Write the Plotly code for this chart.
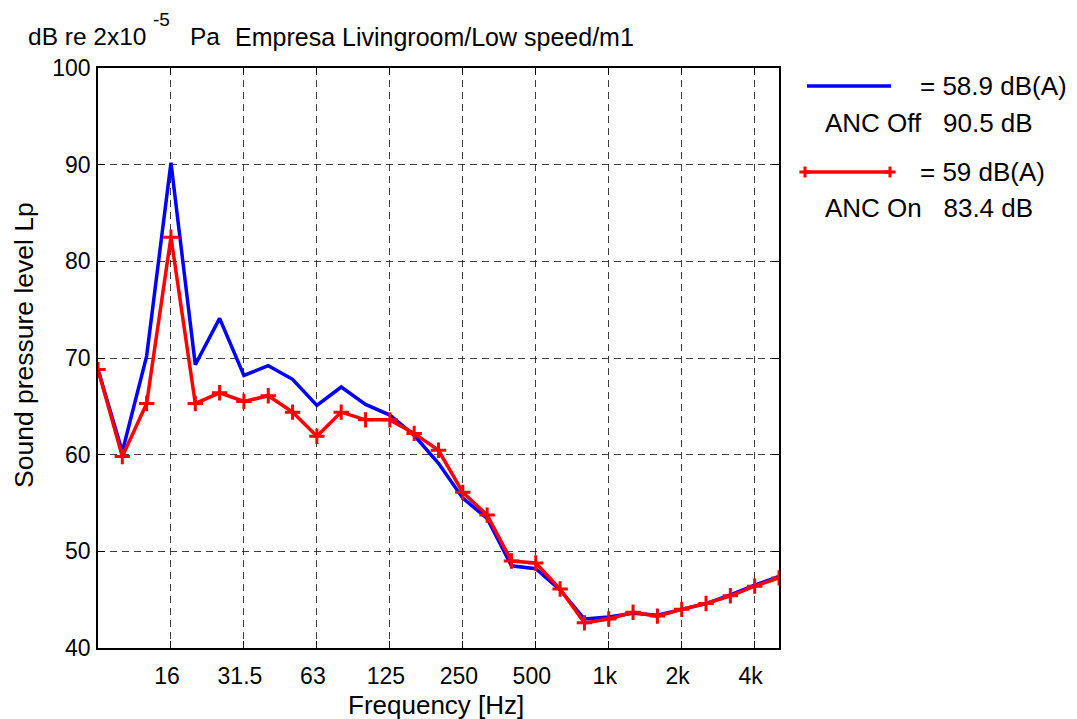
import plotly.graph_objects as go

W, H = 1077, 719

bands = ["8", "10", "12.5", "16", "20", "25", "31.5", "40", "50", "63", "80", "100",
         "125", "160", "200", "250", "315", "400", "500", "630", "800", "1k", "1.25k",
         "1.6k", "2k", "2.5k", "3.15k", "4k", "5k"]
tick_labels = ["16", "31.5", "63", "125", "250", "500", "1k", "2k", "4k"]

anc_off = [68.8, 60.3, 70.2, 90.2, 69.3, 74.1, 68.2, 69.2, 67.8, 65.1, 67.0, 65.2, 64.1, 62.0,
           59.1, 55.5, 53.4, 48.5, 48.2, 46.0, 43.0, 43.2, 43.6, 43.4, 44.0, 44.6, 45.5, 46.5, 47.4]
anc_on = [68.8, 59.8, 65.3, 82.5, 65.3, 66.4, 65.5, 66.1, 64.4, 61.9, 64.4, 63.6, 63.6, 62.2,
          60.45, 56.1, 53.75, 49.0, 48.8, 46.1, 42.6, 43.0, 43.7, 43.3, 44.0, 44.6, 45.4, 46.4, 47.25]

legend_texts = [("= 58.9 dB(A)", "ANC Off   90.5 dB"), ("= 59 dB(A)", "ANC On   83.4 dB")]

xi = list(range(len(bands)))
tickvals = [bands.index(t) for t in tick_labels]

FONT = "Liberation Sans, Arial, Helvetica, sans-serif"

fig = go.Figure()
fig.add_trace(go.Scatter(x=xi, y=anc_off, mode="lines",
                         line=dict(color="#0000ff", width=3.5), showlegend=False))
fig.add_trace(go.Scatter(x=xi, y=anc_on, mode="lines+markers",
                         line=dict(color="#ff0000", width=3.5),
                         marker=dict(symbol="cross-thin", size=11,
                                     line=dict(color="#ff0000", width=3)),
                         showlegend=False))

# legend samples on a hidden pixel-space axis to the right
fig.add_trace(go.Scatter(x=[807, 891], y=[86, 86], mode="lines",
                         line=dict(color="#0000ff", width=3.5),
                         xaxis="x2", yaxis="y2", showlegend=False))
fig.add_trace(go.Scatter(x=[805, 890], y=[172, 172], mode="lines+markers",
                         line=dict(color="#ff0000", width=3.5),
                         marker=dict(symbol="cross-thin", size=8,
                                     line=dict(color="#ff0000", width=3)),
                         xaxis="x2", yaxis="y2", showlegend=False))

x0, x1 = 98, 779
y0, y1 = 68, 648
grid = dict(showgrid=True, gridcolor="rgba(30,30,30,0.85)", gridwidth=1, griddash="7px,5px",
            showline=True, linecolor="black", linewidth=1.5, mirror="ticks",
            ticks="inside", ticklen=7, tickcolor="black", tickwidth=1,
            zeroline=False, automargin=False,
            tickfont=dict(family=FONT, size=23, color="black"))

fig.update_layout(
    width=W, height=H,
    margin=dict(l=0, r=0, t=0, b=0),
    paper_bgcolor="white", plot_bgcolor="white",
    xaxis=dict(domain=[x0 / W, x1 / W], range=[0, len(bands) - 1],
               tickmode="array", tickvals=tickvals, ticktext=tick_labels,
               ticklabelstandoff=7, ticklabelshift=-4, **grid),
    yaxis=dict(domain=[1 - y1 / H, 1 - y0 / H], range=[40, 100], dtick=10,
               ticklabelstandoff=1, **grid),
    xaxis2=dict(domain=[790 / W, 1], range=[790, W], visible=False, anchor="y2"),
    yaxis2=dict(domain=[1 - 230 / H, 1 - 60 / H], range=[230, 60], visible=False, anchor="x2"),
    showlegend=False,
)

def ann(text, px, py, size, xanchor="left", angle=0):
    fig.add_annotation(text=text, x=px / W, y=1 - py / H, xref="paper", yref="paper",
                       xanchor=xanchor, yanchor="middle", showarrow=False, textangle=angle,
                       font=dict(family=FONT, size=size, color="black"))

ann("dB re 2x10", 26, 36, 24.5)
ann("-5", 151, 19, 19)
ann("Pa", 188, 36, 24.5)
ann("Empresa Livingroom/Low speed/m1", 233, 37, 25)
ann("Frequency [Hz]", 436, 705, 26, xanchor="center")
ann("Sound pressure level Lp", 24, 345, 26.5, xanchor="center", angle=-90)

ann(legend_texts[0][0], 918, 86, 26)
ann(legend_texts[0][1], 823, 123, 26)
ann(legend_texts[1][0], 918, 172, 26)
ann(legend_texts[1][1], 823, 208, 26)

fig.write_html("out.html")
